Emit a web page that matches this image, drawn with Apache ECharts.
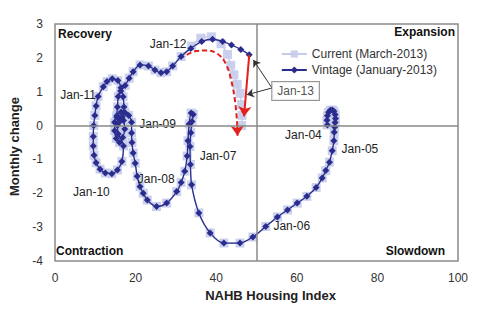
<!DOCTYPE html>
<html>
<head>
<meta charset="utf-8">
<script src="https://cdn.jsdelivr.net/npm/echarts/dist/echarts.min.js"></script>
<style>
  html, body { margin: 0; padding: 0; background: #fff; }
  #chart { width: 480px; height: 328px; }
</style>
</head>
<body>
<div id="chart"></div>
<script>
// NAHB housing index (x) vs. monthly change (y), monthly path Jan-04 .. Jan-13
const vintageIndex = [
  67.6, 67.5, 67.6, 67.9, 68.3, 68.8, 69.2, 69.5, 69.6, 69.5, 69.4, 69.3,
  69.2, 68.8, 68.1, 67.2, 66.3, 64.8, 62.5, 60.1, 57.7, 55.2,
  52.3, 49.1, 45.9, 41.9, 38.5, 35.7, 33.9, 33.6,
  33.5, 33.7, 34.0, 34.3, 33.8, 33.3, 33.0, 32.8, 32.2, 31.3, 30.2, 27.7, 25.2, 22.9, 21.9, 21.1,
  20.4, 19.9, 19.4, 19.1, 19.0,
  19.0, 18.3, 17.4, 16.4, 15.4, 14.8, 14.8, 15.2, 16.0, 16.8, 17.3, 17.0, 16.2, 15.5, 15.7, 17.0, 16.6, 15.5, 14.1,
  12.5, 11.2, 10.2, 9.7, 9.5, 9.5, 9.6, 9.9, 10.2,
  10.7, 12.0, 12.9, 14.2, 15.6, 16.4, 16.9, 17.1, 16.7, 15.9, 15.3, 15.5, 15.7, 16.3, 17.4, 18.4, 19.4, 21.1, 23.2, 24.8, 26.3, 27.7, 29.2,
  31.3, 33.7, 36.4, 39.1, 41.6, 43.8, 46.1, 48.2
];
const vintageChange = [
  0.02, 0.16, 0.29, 0.39, 0.45, 0.46, 0.42, 0.33, 0.21, 0.09, -0.04, -0.20,
  -0.45, -0.74, -1.08, -1.33, -1.55, -1.83, -2.09, -2.29, -2.49, -2.70,
  -2.98, -3.29, -3.47, -3.47, -3.17, -2.58, -1.75, -1.15,
  -0.62, -0.21, 0.12, 0.33, 0.37, 0.05, -0.45, -0.90, -1.35, -1.68, -1.95, -2.29, -2.39, -2.20, -2.00, -1.80,
  -1.50, -1.11, -0.81, -0.50, -0.22,
  0.10, 0.30, 0.38, 0.40, 0.30, 0.10, -0.15, -0.38, -0.50, -0.35, -0.10, 0.15, 0.20, 0.00, -0.25, -0.60, -1.06, -1.31, -1.42,
  -1.40, -1.29, -1.10, -0.88, -0.60, -0.32, 0.00, 0.30, 0.58,
  0.86, 1.15, 1.30, 1.38, 1.33, 1.12, 0.85, 0.55, 0.25, 0.10, 0.25, 0.55, 0.86, 1.02, 1.18, 1.40, 1.59, 1.79, 1.76, 1.64, 1.56, 1.59, 1.76,
  2.04, 2.28, 2.48, 2.55, 2.48, 2.38, 2.25, 2.09
];

// Revised path (March-2013 release) after Jan-12; earlier months match the vintage
const revisedFrom = 'Jan-12';
const currentTailIndex  = [33.9, 36.2, 38.8, 41.2, 42.8, 43.6, 44.4, 45.2, 45.9, 46.3, 46.4, 46.3];
const currentTailChange = [2.35, 2.58, 2.62, 2.42, 2.10, 1.78, 1.50, 1.22, 0.95, 0.62, 0.30, 0.00];

// January markers along the vintage path
const janNames     = ['Jan-04', 'Jan-05', 'Jan-06', 'Jan-07', 'Jan-08', 'Jan-09', 'Jan-10', 'Jan-11', 'Jan-12', 'Jan-13'];
const janPositions = [0, 12, 22, 30, 46, 51, 70, 79, 102, 109];

// Dashed revision arrow
const revisionIndex  = [32.7, 35.0, 37.5, 40.3, 42.4, 43.8, 44.7, 45.2, 45.3];
const revisionChange = [2.09, 2.20, 2.22, 2.12, 1.82, 1.30, 0.70, 0.05, -0.30];

// Solid arrow: vintage Jan-13 to revised reading
const shiftEnd = [46.9, 0.27];

// Callout box "Jan-13" and its pointer tips
const calloutCenter = [59.7, 1.02];
const calloutOrigin = [53.85, 1.11];
const calloutTips   = [[49.2, 1.94], [47.6, 0.91]];

const xTicks = [0, 20, 40, 60, 80, 100];
const yTicks = [-4, -3, -2, -1, 0, 1, 2, 3];
const quadrantNames = ['Recovery', 'Expansion', 'Contraction', 'Slowdown'];
const seriesNames = ['Current (March-2013)', 'Vintage (January-2013)'];

// ---- styling ----
const FONT = 'Liberation Sans, Arial, sans-serif';
const NAVY = '#2b2d8e';
const LIGHT = '#c5cceb';
const RED = '#e3211c';
const labelOffsets = {
  'Jan-04': [-24, 10], 'Jan-05': [26, 8], 'Jan-06': [26, 0], 'Jan-07': [28, 9],
  'Jan-08': [19, 3], 'Jan-09': [26, 2], 'Jan-10': [-14, 19], 'Jan-11': [-20, -1],
  'Jan-12': [-13, -13]
};

const vintageData = vintageIndex.map((x, i) => {
  const item = { value: [x, vintageChange[i]] };
  const k = janPositions.indexOf(i);
  if (k >= 0 && labelOffsets[janNames[k]]) {
    item.label = {
      show: true, position: 'inside', formatter: janNames[k],
      offset: labelOffsets[janNames[k]], color: '#222', fontSize: 12, fontFamily: FONT
    };
  }
  return item;
});

const cut = janPositions[janNames.indexOf(revisedFrom)];
const currentData = vintageIndex.slice(0, cut + 1).map((x, i) => [x, vintageChange[i]])
  .concat(currentTailIndex.map((x, i) => [x, currentTailChange[i]]));

const revisionData = revisionIndex.map((x, i) => [x, revisionChange[i]]);
const vintageEnd = [vintageIndex[vintageIndex.length - 1], vintageChange[vintageChange.length - 1]];

const chart = echarts.init(document.getElementById('chart'), null, { renderer: 'svg' });

chart.setOption({
  animation: false,
  backgroundColor: '#fff',
  textStyle: { fontFamily: FONT },
  grid: {
    left: 55, right: 22, top: 24, bottom: 67,
    show: true, borderColor: '#8a8a8a', borderWidth: 1.5, backgroundColor: 'transparent'
  },
  legend: {
    orient: 'vertical', right: 38, top: 43,
    itemWidth: 25, itemHeight: 9, itemGap: 4,
    textStyle: { fontSize: 12, color: '#333', fontFamily: FONT },
    data: seriesNames
  },
  xAxis: {
    type: 'value', min: xTicks[0], max: xTicks[xTicks.length - 1], interval: xTicks[1] - xTicks[0],
    splitLine: { show: false }, axisTick: { show: false },
    axisLine: { show: false },
    axisLabel: { color: '#333', fontSize: 12, margin: 11, fontFamily: FONT },
    name: 'NAHB Housing Index', nameLocation: 'middle', nameGap: 25,
    nameTextStyle: { fontWeight: 'bold', fontSize: 13, color: '#222', padding: [0, 0, 0, 28], fontFamily: FONT }
  },
  yAxis: {
    type: 'value', min: yTicks[0], max: yTicks[yTicks.length - 1], interval: 1,
    splitLine: { show: false }, axisTick: { show: false },
    axisLine: { show: false },
    axisLabel: { color: '#333', fontSize: 12, margin: 12, fontFamily: FONT },
    name: 'Monthly change', nameLocation: 'middle', nameGap: 33, nameRotate: 90,
    nameTextStyle: { fontWeight: 'bold', fontSize: 13, color: '#222', padding: [0, 8, 0, 0], fontFamily: FONT }
  },
  graphic: [
    { type: 'text', left: 58, top: 28, style: { text: quadrantNames[0], font: 'bold 12px ' + FONT, fill: '#111' } },
    { type: 'text', right: 25, top: 26, style: { text: quadrantNames[1], font: 'bold 12px ' + FONT, fill: '#111' } },
    { type: 'text', left: 56, top: 245, style: { text: quadrantNames[2], font: 'bold 12px ' + FONT, fill: '#111' } },
    { type: 'text', right: 35, top: 245, style: { text: quadrantNames[3], font: 'bold 12px ' + FONT, fill: '#111' } }
  ],
  series: [
    {
      name: seriesNames[0], type: 'line', data: currentData, smooth: 0.3,
      symbol: 'rect', symbolSize: 9, z: 2,
      itemStyle: { color: LIGHT, opacity: 0.9 },
      lineStyle: { color: LIGHT, width: 1.5 },
      markLine: {
        silent: true, symbol: ['none', 'none'], label: { show: false },
        lineStyle: { color: '#8a8a8a', width: 1.5, type: 'solid' },
        data: [{ yAxis: 0 }, { xAxis: 50 }]
      }
    },
    {
      name: seriesNames[1], type: 'line', data: vintageData, smooth: 0.3,
      symbol: 'diamond', symbolSize: 7, z: 3,
      itemStyle: { color: NAVY },
      lineStyle: { color: NAVY, width: 1.3 }
    },
    {
      name: 'revision', type: 'line', data: revisionData.slice(0, -1), smooth: 0.4,
      symbol: 'none', z: 4, silent: true,
      lineStyle: { color: RED, width: 2, type: [5, 3] }
    },
    {
      name: 'revisionHead', type: 'lines', coordinateSystem: 'cartesian2d', z: 4, silent: true,
      symbol: ['none', 'arrow'], symbolSize: 10,
      lineStyle: { color: RED, width: 2, type: [5, 3], opacity: 1 },
      data: [{ coords: revisionData.slice(-2) }]
    },
    {
      name: 'shift', type: 'lines', coordinateSystem: 'cartesian2d', z: 4, silent: true,
      symbol: ['none', 'arrow'], symbolSize: 10,
      lineStyle: { color: RED, width: 2, opacity: 1 },
      data: [{ coords: [vintageEnd, shiftEnd] }]
    },
    {
      name: 'pointers', type: 'lines', coordinateSystem: 'cartesian2d', z: 5, silent: true,
      symbol: ['none', 'arrow'], symbolSize: 7,
      lineStyle: { color: '#333', width: 1, opacity: 1 },
      data: calloutTips.map(t => ({ coords: [calloutOrigin, t] }))
    },
    {
      name: 'callout', type: 'scatter', z: 6, silent: true,
      symbolSize: 0, data: [calloutCenter],
      label: {
        show: true, position: 'inside', formatter: janNames[janNames.length - 1],
        color: '#222', fontSize: 12, fontFamily: FONT,
        backgroundColor: '#fff', borderColor: '#7a7a7a', borderWidth: 1, padding: [3, 5]
      }
    }
  ]
});
</script>
</body>
</html>
